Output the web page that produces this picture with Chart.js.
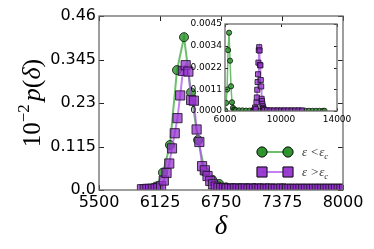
<!DOCTYPE html>
<html>
<head>
<meta charset="utf-8">
<script src="https://cdn.jsdelivr.net/npm/chart.js@4/dist/chart.umd.min.js"></script>
<style>
  body { margin: 0; background: #fff; }
  #wrap { position: relative; width: 374px; height: 249px; }
  #wrap canvas { position: absolute; left: 0; top: 0; }
</style>
</head>
<body>
<div id="wrap">
  <canvas id="main" width="374" height="249"></canvas>
  <canvas id="inset" width="374" height="249"></canvas>
</div>
<script>
// main panel data (delta, 10^-2 p(delta))
const greenDelta = [6011, 6083, 6155, 6227, 6299, 6371, 6443, 6515, 6587, 6659, 6731, 6803, 6875, 6947,
  7019, 7091, 7163, 7235, 7307, 7379, 7451, 7523, 7595, 7667, 7739, 7811, 7883, 7955];
const greenP = [0.003, 0.009, 0.046, 0.119, 0.317, 0.404, 0.258, 0.132, 0.048, 0.027, 0.016, 0.007, 0.005, 0.004,
  0.004, 0.005, 0.004, 0.004, 0.003, 0.004, 0.003, 0.003, 0.003, 0.002, 0.003, 0.002, 0.002, 0.002];

const purpleDelta = [5940, 5968, 5996, 6024, 6052, 6080, 6108, 6136, 6164, 6192, 6220, 6248, 6276, 6304,
  6332, 6360, 6388, 6416, 6444, 6472, 6500, 6528, 6556, 6584, 6612, 6640, 6668, 6696, 6724, 6752,
  6780, 6808, 6836, 6864, 6892, 6920, 6948, 6976, 7004, 7032, 7060, 7088, 7116, 7144, 7172, 7200,
  7228, 7256, 7284, 7312, 7340, 7368, 7396, 7424, 7452, 7480, 7508, 7536, 7564, 7592, 7620, 7648,
  7676, 7704, 7732, 7760, 7788, 7816, 7844, 7872, 7900, 7928, 7956, 7984, 8012];
const purpleP = [0.002, 0.002, 0.003, 0.003, 0.003, 0.004, 0.005, 0.010, 0.025, 0.045, 0.070, 0.110, 0.150, 0.190,
  0.250, 0.315, 0.330, 0.313, 0.238, 0.236, 0.160, 0.127, 0.063, 0.052, 0.037, 0.024, 0.015, 0.009, 0.006, 0.005,
  0.004, 0.004, 0.004, 0.003, 0.004, 0.004, 0.003, 0.004, 0.004, 0.003, 0.004, 0.003, 0.004, 0.003, 0.004, 0.003,
  0.003, 0.004, 0.003, 0.003, 0.003, 0.004, 0.003, 0.003, 0.003, 0.003, 0.003, 0.003, 0.003, 0.003, 0.003, 0.003,
  0.003, 0.003, 0.003, 0.003, 0.003, 0.003, 0.003, 0.003, 0.003, 0.003, 0.003, 0.003, 0.003];

const xTicks = [5500, 6125, 6750, 7375, 8000];
const xTickLabels = ['5500', '6125', '6750', '7375', '8000'];
const yTicks = [0, 0.115, 0.23, 0.345, 0.46];
const yTickLabels = ['0.0', '0.115', '0.23', '0.345', '0.46'];

// inset data (delta, p(delta))
const insetGreenDelta = [6010, 6080, 6150, 6220, 6290, 6360, 6430, 6500, 6570, 6640, 6710, 6780,
  7000, 7250, 7500, 7750, 8000, 8250, 8500, 8750, 9000, 9250, 9500, 9750, 10000, 10250, 10500,
  10750, 11000, 11250, 11500, 11750, 12000, 12250, 12500, 12750, 13000, 13110];
const insetGreenP = [0.00003, 0.00042, 0.00111, 0.00315, 0.00405, 0.00260, 0.00128, 0.00045, 0.00016, 0.00008, 0.00005, 0.00004,
  0.00003, 0.00003, 0.00002, 0.00002, 0.00002, 0.00002, 0.00002, 0.00002, 0.00001, 0.00001, 0.00001, 0.00001, 0.00001, 0.00001, 0.00001,
  0.00001, 0.00001, 0.00001, 0.00001, 0.00001, 0.00001, 0.00001, 0.00001, 0.00001, 0.00001, 0.00001];

const insetPurpleDelta = [8050, 8100, 8150, 8200, 8248, 8276, 8304, 8332, 8360, 8388, 8416, 8444, 8472, 8500,
  8528, 8556, 8584, 8612, 8640, 8668, 8696, 8724, 8752, 8780, 8808, 9000, 9250, 9500, 9750, 10000,
  10250, 10500, 10750, 11000, 11250, 11500];
const insetPurpleP = [0.00002, 0.00003, 0.00018, 0.00010, 0.00045, 0.00070, 0.00110, 0.00150, 0.00190, 0.00250, 0.00315, 0.00330, 0.00313, 0.00238,
  0.00236, 0.00160, 0.00127, 0.00063, 0.00052, 0.00037, 0.00024, 0.00015, 0.00009, 0.00006, 0.00005, 0.00004, 0.00003, 0.00003, 0.00003, 0.00003,
  0.00003, 0.00003, 0.00003, 0.00003, 0.00003, 0.00003];

const insetXTicks = [6000, 10000, 14000];
const insetXTickLabels = ['6000', '10000', '14000'];
const insetYTicks = [0, 0.001125, 0.00225, 0.003375, 0.0045];
const insetYTickLabels = ['0.0000', '0.0011', '0.0022', '0.0034', '0.0045'];

// shared styles
const greenStyle = {
  borderColor: 'rgba(60,170,60,0.75)',
  backgroundColor: 'rgba(40,145,40,0.8)',
  pointBorderColor: 'rgba(20,30,20,0.85)',
  pointStyle: 'circle',
};
const purpleStyle = {
  borderColor: 'rgba(175,85,235,0.75)',
  backgroundColor: 'rgba(150,50,205,0.75)',
  pointBorderColor: 'rgba(30,20,40,0.85)',
  pointStyle: 'rect',
};

function toPoints(xs, ys) {
  return xs.map((x, i) => ({ x: x, y: ys[i] }));
}

// inward ticks + grey frame, matplotlib style
function frameAndTicks(tickLen) {
  return {
    id: 'frameAndTicks',
    afterDatasetsDraw(chart) {
      const { ctx, chartArea: a, scales } = chart;
      ctx.save();
      ctx.strokeStyle = '#222';
      ctx.lineWidth = 1;
      scales.x.ticks.forEach(t => {
        const px = Math.round(scales.x.getPixelForValue(t.value)) + 0.5;
        ctx.beginPath();
        ctx.moveTo(px, a.bottom); ctx.lineTo(px, a.bottom - tickLen);
        ctx.moveTo(px, a.top); ctx.lineTo(px, a.top + tickLen);
        ctx.stroke();
      });
      scales.y.ticks.forEach(t => {
        const py = Math.round(scales.y.getPixelForValue(t.value)) + 0.5;
        ctx.beginPath();
        ctx.moveTo(a.left, py); ctx.lineTo(a.left + tickLen, py);
        ctx.moveTo(a.right, py); ctx.lineTo(a.right - tickLen, py);
        ctx.stroke();
      });
      ctx.strokeStyle = '#6a6a6a';
      ctx.lineWidth = 1.3;
      ctx.strokeRect(a.left, a.top, a.right - a.left, a.bottom - a.top);
      ctx.restore();
    }
  };
}

function fixedTicks(values, labels) {
  return {
    afterBuildTicks: s => { s.ticks = values.map(v => ({ value: v })); },
    ticks: {
      autoSkip: false,
      maxRotation: 0,
      callback: v => labels[values.indexOf(v)],
    },
  };
}

// axis titles and legend for the main panel
const mainText = {
  id: 'mainText',
  afterDraw(chart) {
    const { ctx, chartArea: a } = chart;
    ctx.save();
    ctx.fillStyle = '#000';
    ctx.textBaseline = 'alphabetic';

    // y title: 10^{-2} p(δ)
    const parts = [
      { t: '10', f: '25px "Liberation Serif"', dy: 0 },
      { t: '\u22122', f: '17px "Liberation Serif"', dy: -11 },
      { t: 'p', f: 'italic 26px "Liberation Serif"', dy: 0, pad: 3 },
      { t: '(', f: '26px "Liberation Serif"', dy: 0 },
      { t: '\u03b4', f: 'italic 26px "Liberation Serif"', dy: 0 },
      { t: ')', f: '26px "Liberation Serif"', dy: 0 },
    ];
    let total = 0;
    parts.forEach(p => { ctx.font = p.f; p.w = ctx.measureText(p.t).width + (p.pad || 0); total += p.w; });
    ctx.translate(40, (a.top + a.bottom) / 2);
    ctx.rotate(-Math.PI / 2);
    let cx = -total / 2;
    parts.forEach(p => {
      ctx.font = p.f;
      ctx.fillText(p.t, cx + (p.pad || 0), p.dy);
      cx += p.w;
    });
    ctx.setTransform(1, 0, 0, 1, 0, 0);

    // x title
    ctx.font = 'italic 27px "Liberation Serif"';
    ctx.textAlign = 'center';
    ctx.fillText('\u03b4', (a.left + a.right) / 2, 234);

    // legend
    const rows = [
      { y: 152, s: greenStyle, r: 5, rel: '<' },
      { y: 172, s: purpleStyle, r: 7, rel: '>' },
    ];
    rows.forEach(row => {
      ctx.strokeStyle = row.s.borderColor;
      ctx.lineWidth = 2;
      ctx.beginPath();
      ctx.moveTo(262, row.y); ctx.lineTo(288, row.y);
      ctx.stroke();
      [262, 288].forEach(px => {
        ctx.fillStyle = row.s.backgroundColor;
        ctx.strokeStyle = row.s.pointBorderColor;
        ctx.lineWidth = 1;
        Chart.helpers.drawPoint(ctx, { pointStyle: row.s.pointStyle, radius: row.r, borderWidth: 1, rotation: 0 }, px, row.y);
        ctx.fill();
        ctx.stroke();
      });
      ctx.fillStyle = '#333';
      ctx.textAlign = 'left';
      ctx.font = 'italic 13px "Liberation Serif"';
      const txt = '\u03b5 ' + row.rel + '\u03b5';
      ctx.fillText(txt, 302, row.y + 4);
      const w = ctx.measureText(txt).width;
      ctx.font = 'italic 9px "Liberation Serif"';
      ctx.fillText('c', 302 + w, row.y + 7);
    });
    ctx.restore();
  }
};

const whiteArea = {
  id: 'whiteArea',
  beforeDatasetsDraw(chart) {
    const { ctx, chartArea: a } = chart;
    ctx.save();
    ctx.fillStyle = '#fff';
    ctx.fillRect(a.left, a.top, a.right - a.left, a.bottom - a.top);
    ctx.restore();
  }
};

function makePanel({ elementId, area, xRange, yRange, xt, yt, tickFont, tickLen, datasets, plugins }) {
  const canvasW = 374, canvasH = 249;
  const xFixed = fixedTicks(xt[0], xt[1]);
  const yFixed = fixedTicks(yt[0], yt[1]);
  return new Chart(document.getElementById(elementId), {
    type: 'line',
    data: { datasets: datasets },
    options: {
      responsive: false,
      animation: false,
      devicePixelRatio: 1,
      layout: { padding: { left: 0, top: area.top, right: canvasW - area.right, bottom: 0 } },
      plugins: { legend: { display: false }, tooltip: { enabled: false } },
      scales: {
        x: {
          type: 'linear', min: xRange[0], max: xRange[1],
          grid: { display: false, drawTicks: false }, border: { display: false },
          afterBuildTicks: xFixed.afterBuildTicks,
          afterFit: s => { s.height = canvasH - area.bottom; },
          ticks: { ...xFixed.ticks, padding: tickFont.xPad, color: '#000', font: { family: 'DejaVu Sans', size: tickFont.size } },
        },
        y: {
          type: 'linear', min: yRange[0], max: yRange[1],
          grid: { display: false, drawTicks: false }, border: { display: false },
          afterBuildTicks: yFixed.afterBuildTicks,
          afterFit: s => { s.width = area.left; },
          ticks: { ...yFixed.ticks, padding: tickFont.yPad, color: '#000', font: { family: 'DejaVu Sans', size: tickFont.size } },
        },
      },
    },
    plugins: [...plugins, frameAndTicks(tickLen)],
  });
}

makePanel({
  elementId: 'main',
  area: { left: 99, top: 16, right: 343, bottom: 190 },
  xRange: [5500, 8000], yRange: [0, 0.46],
  xt: [xTicks, xTickLabels], yt: [yTicks, yTickLabels],
  tickFont: { size: 16, xPad: 3, yPad: 3 },
  tickLen: 5,
  datasets: [
    { data: toPoints(purpleDelta, purpleP), ...purpleStyle, pointBackgroundColor: purpleStyle.backgroundColor,
      borderWidth: 2, pointRadius: 6.5, pointBorderWidth: 1, order: 0, clip: 0 },
    { data: toPoints(greenDelta, greenP), ...greenStyle, pointBackgroundColor: greenStyle.backgroundColor,
      borderWidth: 2, pointRadius: 4.5, pointBorderWidth: 1, order: 1, clip: 0 },
  ],
  plugins: [mainText],
});

makePanel({
  elementId: 'inset',
  area: { left: 225, top: 24, right: 337, bottom: 111 },
  xRange: [6000, 14000], yRange: [0, 0.0045],
  xt: [insetXTicks, insetXTickLabels], yt: [insetYTicks, insetYTickLabels],
  tickFont: { size: 9, xPad: 3, yPad: 3 },
  tickLen: 3,
  datasets: [
    { data: toPoints(insetPurpleDelta, insetPurpleP), ...purpleStyle, pointBackgroundColor: purpleStyle.backgroundColor,
      borderWidth: 1.5, pointRadius: 3.6, pointBorderWidth: 1, order: 0, clip: 0 },
    { data: toPoints(insetGreenDelta, insetGreenP), ...greenStyle, pointBackgroundColor: greenStyle.backgroundColor,
      borderWidth: 1.5, pointRadius: 2.6, pointBorderWidth: 1, order: 1, clip: 0 },
  ],
  plugins: [whiteArea],
});
</script>
</body>
</html>
